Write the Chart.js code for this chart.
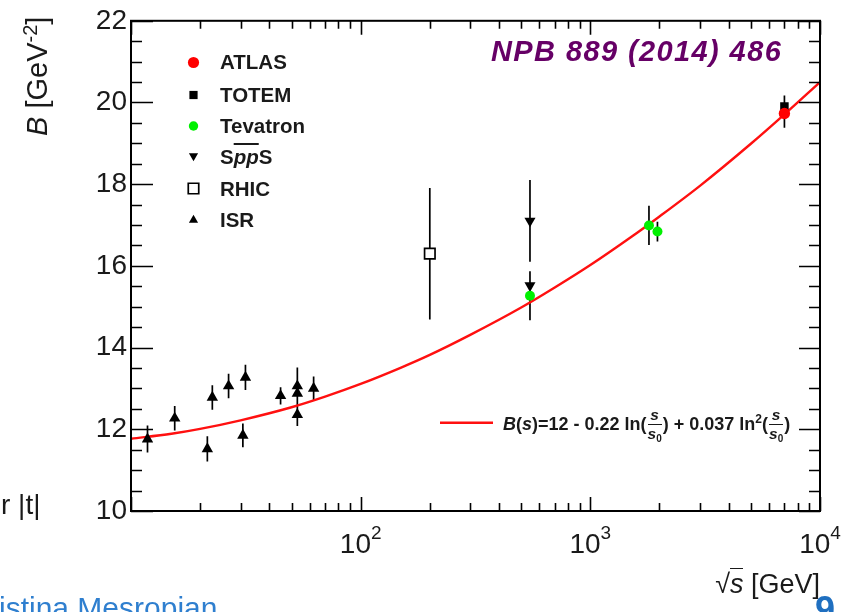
<!DOCTYPE html>
<html><head><meta charset="utf-8">
<script src="https://cdn.jsdelivr.net/npm/chart.js@4"></script>
<style>
html,body{margin:0;padding:0;background:#fff;overflow:hidden;width:842px;height:612px;}
#wrap{position:relative;width:842px;height:612px;overflow:hidden;}
canvas{position:absolute;left:0;top:0;}
.t{position:absolute;font-family:"Liberation Sans",Arial,sans-serif;color:#1a1a1a;white-space:nowrap;line-height:1;}
.leg{font-weight:bold;font-size:20.5px;left:220px;}
.fr{display:inline-block;vertical-align:middle;text-align:center;font-size:15.5px;line-height:1;margin:0 1px;}
.fr .num{display:block;border-bottom:1.5px solid #1a1a1a;padding:0 1px 1px 1px;}
.fr .den{display:block;padding-top:1px;}
.fr sub{font-size:10px;vertical-align:-3px;}
</style></head><body>
<div id="wrap">
<canvas id="c" width="842" height="612"></canvas>

<div class="t" style="left:20px;top:136px;font-size:29px;transform:rotate(-90deg);transform-origin:0 0;"><i>B</i> [GeV<sup style="font-size:20px;vertical-align:10px;">-2</sup>]</div>
<div class="t" style="right:22px;top:571px;font-size:27px;">√<span style="border-top:1.5px solid #1a1a1a;"><i>s</i></span> [GeV]</div>

<div class="t" style="left:491px;top:37px;font-size:29px;font-weight:bold;font-style:italic;color:#660066;letter-spacing:1.4px;">NPB 889 (2014) 486</div>

<div class="t leg" style="top:52px;">ATLAS</div>
<div class="t leg" style="top:85px;">TOTEM</div>
<div class="t leg" style="top:116px;">Tevatron</div>
<div class="t leg" style="top:147px;">S<i style="text-decoration:overline;">pp</i>S</div>
<div class="t leg" style="top:178.5px;">RHIC</div>
<div class="t leg" style="top:210px;">ISR</div>

<div class="t" style="left:503px;top:407px;font-size:18px;font-weight:bold;"><i>B</i>(<i>s</i>)=12 - 0.22 ln(<span class="fr"><span class="num"><i>s</i></span><span class="den"><i>s</i><sub>0</sub></span></span>) + 0.037 ln<sup style="font-size:12px;vertical-align:7px;">2</sup>(<span class="fr"><span class="num"><i>s</i></span><span class="den"><i>s</i><sub>0</sub></span></span>)</div>

<div class="t" style="left:1px;top:491px;font-size:28px;">r |t|</div>
<div class="t" style="left:-1px;top:593px;font-size:30px;color:#2f7fcf;">istina Mesropian</div>
<div class="t" style="left:815px;top:592px;font-size:36px;font-weight:bold;color:#1f6fc0;">9</div>
</div>
<script>
// ---------- data ----------
const atlasX = [7000];
const atlasB = [19.73];
const atlasErr = [0.35];

const totemX = [7000];
const totemB = [19.90];
const totemErr = [0.27];

const tevatronX = [546, 1800, 1960];
const tevatronB = [15.27, 16.99, 16.84];
const tevatronErr = [0.60, 0.48, 0.24];

const sppsX = [546, 546];
const sppsB = [17.10, 15.52];
const sppsErr = [1.00, 0.35];

const rhicX = [200];
const rhicB = [16.30];
const rhicErr = [1.61];

const isrX = [11.8, 15.5, 21.5, 22.6, 26.6, 31.5, 30.7, 44.8, 53.0, 53.0, 53.0, 62.4];
const isrB = [11.76, 12.27, 11.52, 12.78, 13.06, 13.27, 11.85, 12.82, 13.06, 12.88, 12.36, 13.00];
const isrErr = [0.33, 0.30, 0.31, 0.30, 0.30, 0.31, 0.29, 0.21, 0.45, 0.25, 0.28, 0.29];

// fit curve B(s)
const curveX = [10, 15, 20, 30, 50, 70, 100, 150, 200, 300, 500, 700, 1000, 1500, 2000, 3000, 5000, 7000, 10000];
const curveB = [11.77, 11.89, 12.01, 12.22, 12.54, 12.80, 13.11, 13.51, 13.82, 14.31, 14.98, 15.47, 16.02, 16.70, 17.21, 17.96, 18.99, 19.71, 20.50];

// axes
const yMajorTicks = [10, 12, 14, 16, 18, 20, 22];
const xDecades = [10, 100, 1000, 10000];
const xTickValues = [100, 1000, 10000];
const xTickExponents = ['2', '3', '4'];
const legendRowsY = [62.5, 95, 126, 156, 188.5, 220];

// ---------- helpers ----------
const toPts = (xs, ys) => xs.map((x, i) => ({x: x, y: ys[i]}));
const errPts = (xs, ys, es) => xs.flatMap((x, i) => [{x: x, y: ys[i] - es[i]}, {x: x, y: ys[i] + es[i]}, {x: x, y: null}]);

const allErr = [].concat(
  errPts(isrX, isrB, isrErr), errPts(rhicX, rhicB, rhicErr), errPts(sppsX, sppsB, sppsErr),
  errPts(tevatronX, tevatronB, tevatronErr), errPts(totemX, totemB, totemErr), errPts(atlasX, atlasB, atlasErr));

function marker(label, xs, ys, style, r, fill, border, bw, rot, legR, order) {
  return {label: label, data: toPts(xs, ys), showLine: false, pointStyle: style, pointRadius: r,
    pointRotation: rot, pointBackgroundColor: fill, pointBorderColor: border, pointBorderWidth: bw,
    backgroundColor: fill, borderColor: border, borderWidth: bw, legendRadius: legR, order: order, inLegend: true};
}

const datasets = [
  marker('ATLAS', atlasX, atlasB, 'circle', 5.7, '#ff0000', '#ff0000', 0, 0, 5.6, 0),
  marker('TOTEM', totemX, totemB, 'rect', 6, '#000000', '#000000', 0, 0, 5.8, 1),
  marker('Tevatron', tevatronX, tevatronB, 'circle', 5, '#00f000', '#00f000', 0, 0, 4.7, 2),
  marker('SppS', sppsX, sppsB, 'triangle', 6.4, '#000000', '#000000', 0, 180, 5.3, 3),
  marker('RHIC', rhicX, rhicB, 'rect', 7.4, '#ffffff', '#000000', 1.7, 0, 7.4, 4),
  marker('ISR', isrX, isrB, 'triangle', 6.6, '#000000', '#000000', 0, 0, 5.3, 5),
  {label: 'fit', data: toPts(curveX, curveB), showLine: true, borderColor: '#ff1010', borderWidth: 2.4,
    pointRadius: 0, cubicInterpolationMode: 'monotone', order: 8},
  {label: 'errors', data: allErr, showLine: true, borderColor: '#000000', borderWidth: 1.7,
    pointRadius: 0, spanGaps: false, order: 9}
];

const FONT = '"Liberation Sans", Arial, sans-serif';

const decor = {
  id: 'decor',
  afterDatasetsDraw(chart) {
    const {ctx, chartArea: a, scales: {x, y}} = chart;
    ctx.save();
    ctx.strokeStyle = '#000';
    // ticks
    ctx.lineWidth = 1.6;
    ctx.beginPath();
    for (let v = 10; v <= 22.001; v += 0.5) {
      const py = Math.round(y.getPixelForValue(v)) + 0.5;
      const major = yMajorTicks.includes(Math.round(v * 10) / 10);
      const lenL = major ? 22 : 11, lenR = major ? 21 : 11;
      ctx.moveTo(a.left, py); ctx.lineTo(a.left + lenL, py);
      ctx.moveTo(a.right, py); ctx.lineTo(a.right - lenR, py);
    }
    xDecades.forEach((d, di) => {
      const ks = di === xDecades.length - 1 ? [1] : [1, 2, 3, 4, 5, 6, 7, 8, 9];
      ks.forEach(k => {
        const px = Math.round(x.getPixelForValue(k * d)) + 0.5;
        const len = k === 1 ? 14 : 8;
        ctx.moveTo(px, a.bottom); ctx.lineTo(px, a.bottom - len);
        ctx.moveTo(px, a.top); ctx.lineTo(px, a.top + len);
      });
    });
    ctx.stroke();
    // frame
    ctx.lineWidth = 2;
    ctx.strokeRect(a.left, a.top, a.right - a.left, a.bottom - a.top);
    // x tick labels
    ctx.fillStyle = '#1a1a1a';
    ctx.textBaseline = 'alphabetic';
    ctx.textAlign = 'left';
    xTickValues.forEach((v, i) => {
      const px = x.getPixelForValue(v);
      ctx.font = '28px ' + FONT;
      const w1 = ctx.measureText('10').width;
      ctx.font = '19px ' + FONT;
      const w2 = ctx.measureText(xTickExponents[i]).width;
      const start = px - (w1 + w2) / 2;
      ctx.font = '28px ' + FONT;
      ctx.fillText('10', start, 552.5);
      ctx.font = '19px ' + FONT;
      ctx.fillText(xTickExponents[i], start + w1, 539);
    });
    // legend markers
    const legendSets = chart.data.datasets.filter(d => d.inLegend);
    legendSets.forEach((ds, i) => {
      ctx.fillStyle = ds.pointBackgroundColor;
      ctx.strokeStyle = ds.pointBorderColor;
      ctx.lineWidth = ds.pointBorderWidth;
      Chart.helpers.drawPoint(ctx, {pointStyle: ds.pointStyle, radius: ds.legendRadius,
        rotation: ds.pointRotation, borderWidth: ds.pointBorderWidth}, 193.5, legendRowsY[i]);
    });
    // fit legend line
    ctx.strokeStyle = '#ff1010';
    ctx.lineWidth = 2.6;
    ctx.beginPath();
    ctx.moveTo(440, 422.7); ctx.lineTo(493, 422.7);
    ctx.stroke();
    ctx.restore();
  }
};

new Chart(document.getElementById('c'), {
  type: 'scatter',
  data: {datasets: datasets},
  options: {
    responsive: false,
    animation: false,
    devicePixelRatio: 1,
    layout: {padding: {top: 16, right: 22, left: 0, bottom: 0}},
    plugins: {legend: {display: false}, tooltip: {enabled: false}},
    scales: {
      x: {
        type: 'logarithmic', min: 10, max: 10000,
        grid: {display: false}, border: {display: false},
        ticks: {display: false},
        afterFit(scale) { scale.height = 101; }
      },
      y: {
        type: 'linear', min: 10, max: 22,
        grid: {display: false, drawTicks: false}, border: {display: false},
        ticks: {stepSize: 2, padding: 4, color: '#1a1a1a', font: {family: FONT, size: 28},
          callback: v => String(v)},
        afterFit(scale) { scale.width = 131; }
      }
    }
  },
  plugins: [decor]
});
</script>
</body></html>
